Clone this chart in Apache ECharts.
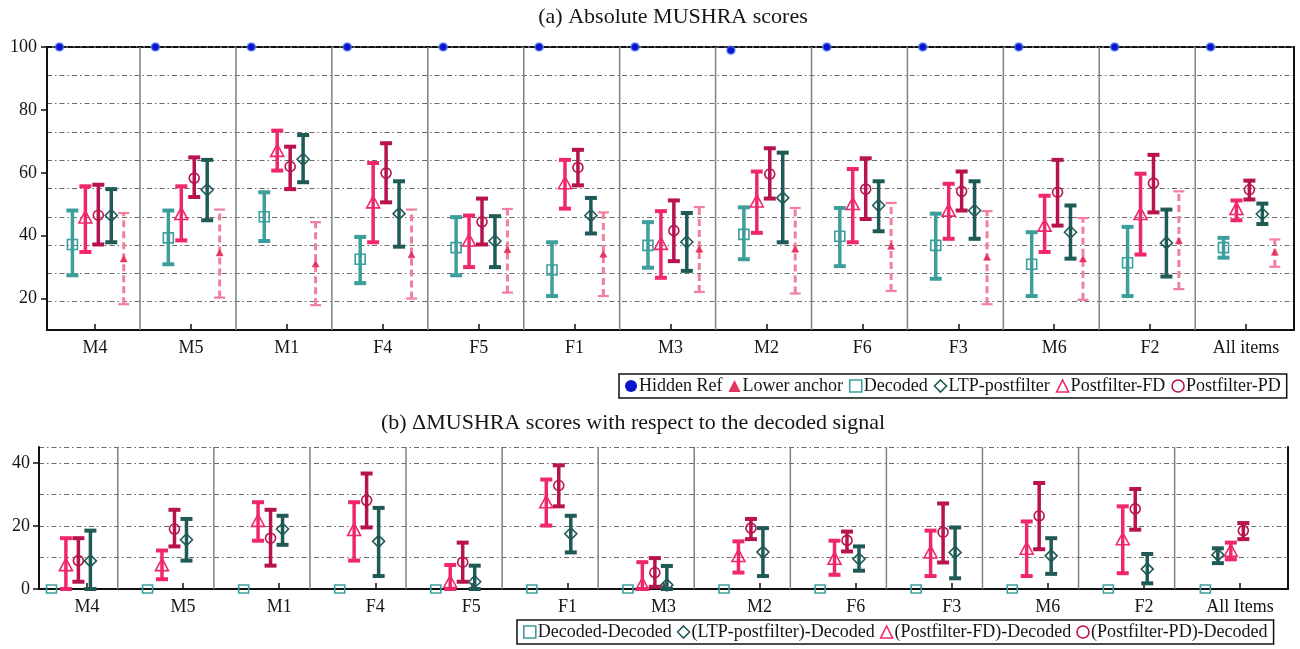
<!DOCTYPE html>
<html><head><meta charset="utf-8">
<script src="https://cdn.jsdelivr.net/npm/echarts@6/dist/echarts.min.js"></script>
<style>html,body{margin:0;padding:0;background:#fff}#c{width:1300px;height:649px}</style>
</head><body><div id="c"></div>
<script>
// ---------- data ----------
const categoriesTop = ['M4','M5','M1','F4','F5','F1','M3','M2','F6','F3','M6','F2','All items'];
const categoriesBottom = ['M4','M5','M1','F4','F5','F1','M3','M2','F6','F3','M6','F2','All Items'];
const yTickLabelsTop = [20, 40, 60, 80, 100];
const yTickLabelsBottom = [0, 20, 40];

// (a) absolute scores: mean, lower CI, upper CI
const hiddenRefMean = [100,100,100,100,100,100,100,99,100,100,100,100,100];
const anchorMean = [32.5,34.4,30.9,33.8,35.4,34.0,35.6,35.6,36.5,33.0,32.5,38.3,34.6];
const anchorLow  = [18.2,20.3,17.9,20.0,21.9,20.8,22.1,21.6,22.4,18.2,19.6,23.0,30.1];
const anchorHigh = [47.2,48.3,44.3,48.3,48.5,47.4,49.1,48.8,50.4,47.8,45.6,54.1,38.8];
const decodedMean = [37.2,39.3,46.0,32.5,36.2,29.1,36.9,40.4,39.8,36.9,30.9,31.4,36.2];
const decodedLow  = [27.4,30.9,38.3,24.9,27.4,20.8,29.8,32.5,30.3,26.3,20.8,20.8,33.0];
const decodedHigh = [48.0,48.0,53.8,39.6,45.9,37.9,44.3,49.0,48.8,47.0,41.1,42.8,39.3];
const ltpMean = [46.4,54.6,64.3,47.0,38.3,46.4,38.0,52.0,49.6,48.0,41.1,37.7,46.9];
const ltpLow  = [37.9,44.9,57.0,36.5,30.0,40.7,28.8,37.9,41.4,39.0,32.7,27.0,43.7];
const ltpHigh = [54.8,64.1,72.0,57.3,46.2,52.0,47.2,66.4,57.3,57.3,49.6,48.3,50.2];
const fdMean = [45.6,46.7,66.8,50.4,38.3,56.5,37.2,50.7,49.9,47.8,43.0,46.7,48.3];
const fdLow  = [34.8,38.5,60.7,37.9,30.0,48.6,26.6,40.9,37.9,39.0,34.8,34.0,44.9];
const fdHigh = [55.7,55.7,73.4,63.1,46.4,64.1,47.8,60.4,61.2,56.5,52.7,59.7,51.2];
const pdMean = [46.5,58.3,62.0,59.9,44.4,61.7,41.6,59.6,54.8,54.1,53.8,56.7,54.6];
const pdLow  = [37.2,52.3,54.8,50.6,37.2,56.0,31.9,51.8,45.3,48.0,43.2,47.4,51.5];
const pdHigh = [56.2,64.9,68.3,69.4,51.8,67.3,51.2,67.8,64.6,60.4,64.1,65.7,57.5];

// (b) delta scores with respect to decoded
const ddMean = [0,0,0,0,0,0,0,0,0,0,0,0,0];
const dLtpMean = [8.9,15.6,19.0,15.1,2.3,17.5,1.3,11.7,9.5,11.6,10.5,6.3,10.8];
const dLtpLow  = [0,9.0,14.0,4.1,0,11.6,0,4.1,5.8,3.4,4.8,1.8,8.2];
const dLtpHigh = [18.5,22.2,23.2,25.7,7.4,23.2,7.3,19.3,13.5,19.5,16.1,11.1,12.9];
const dFdMean = [7.4,7.4,21.4,18.5,2.0,27.3,1.3,10.3,9.4,11.4,12.6,15.6,11.9];
const dFdLow  = [0,3.1,15.3,9.0,0,20.1,0,5.2,4.5,4.1,4.1,5.0,9.4];
const dFdHigh = [16.1,12.2,27.5,27.5,7.6,34.7,8.5,15.1,15.3,18.5,21.4,26.2,14.7];
const dPdMean = [9.0,19.0,16.1,28.1,8.5,32.8,5.2,19.3,15.4,18.0,23.2,25.4,18.5];
const dPdLow  = [2.3,13.5,7.4,19.5,2.3,26.2,0.7,15.8,11.9,8.4,12.6,18.8,15.8];
const dPdHigh = [16.1,25.1,25.1,36.6,14.7,39.2,9.8,22.2,18.2,27.1,33.6,31.7,20.9];

// ---------- styling ----------
const C = {
  teal:'#3c9f9c', ltp:'#1f5a57', fd:'#f0276d', pd:'#b8124f',
  anchor:'#f27ea2', anchorMk:'#e5335f', hidden:'#0a14c8', grid:'#6a6a6a', divider:'#808080'
};
const FONT = 'Liberation Serif';
const gridLine = {show:true, lineStyle:{color:C.grid, width:1.2, type:[5,3,1.5,3]}};

const slotTop = {hidden:-0.37, decoded:-0.235, fd:-0.10, pd:0.035, ltp:0.17, anchor:0.30};
const slotBot = {dd:-0.37, fd:-0.22, pd:-0.09, ltp:0.035};
const slotBotLast = {dd:-0.36, ltp:-0.23, fd:-0.095, pd:0.035};

function rows(m, lo, hi) { return m.map((v, i) => [i, v, lo ? lo[i] : v, hi ? hi[i] : v]); }

function marker(c, x, y) {
  const s = c.size;
  const st = {fill: c.fill || 'none', stroke: c.mstroke || c.color, lineWidth: c.mLine == null ? 1.6 : c.mLine};
  if (c.marker === 'circle') return {type:'circle', shape:{cx:x, cy:y, r:s/2}, style:st, z2:10};
  if (c.marker === 'rect') return {type:'rect', shape:{x:x-s/2, y:y-(c.h||s)/2, width:s, height:(c.h||s)}, style:st, z2:10};
  if (c.marker === 'triangle') return {type:'polygon', shape:{points:[[x,y-s*0.55],[x+s/2,y+s*0.38],[x-s/2,y+s*0.38]]}, style:st, z2:10};
  return {type:'polygon', shape:{points:[[x,y-s/2],[x+s/2,y],[x,y+s/2],[x-s/2,y]]}, style:st, z2:10};
}

function errorRenderer(c) {
  return function (params, api) {
    const i = api.value(0);
    const band = api.size([1, 0])[0];
    const x = api.coord([i, api.value(1)])[0] + c.slot(i) * band;
    const yM = api.coord([i, api.value(1)])[1];
    const cs = params.coordSys;
    const clampY = y => Math.max(cs.y, Math.min(cs.y + cs.height, y));
    const yL = clampY(api.coord([i, api.value(2)])[1]);
    const yH = clampY(api.coord([i, api.value(3)])[1]);
    const ch = [];
    if (c.bar) {
      ch.push({type:'line', shape:{x1:x, y1:yL, x2:x, y2:yH}, style:{stroke:c.barColor||c.color, lineWidth:c.barWidth, lineDash:c.dash||null}});
      [yL, yH].forEach(y => ch.push({type:'line', shape:{x1:x-c.capW/2, y1:y, x2:x+c.capW/2, y2:y}, style:{stroke:c.barColor||c.color, lineWidth:c.capT}}));
    }
    ch.push(marker(c, x, yM));
    return {type:'group', children:ch};
  };
}

function dividerRenderer(shift) {
  return function (params, api) {
    const i = api.value(0);
    const band = api.size([1, 0])[0];
    const x = api.coord([i, api.value(1)])[0] + band * (0.5 + shift);
    const cs = params.coordSys;
    return {type:'line', shape:{x1:x, y1:cs.y, x2:x, y2:cs.y + cs.height}, style:{stroke:C.divider, lineWidth:1.5}, silent:true};
  };
}

const solidBar = {bar:true, barWidth:3.5, capW:12, capT:4};
function es(name, xi, yi, data, cfg) {
  return {type:'custom', name, xAxisIndex:xi, yAxisIndex:yi, data, encode:{x:0, y:1},
    itemStyle:{color:cfg.color}, renderItem:errorRenderer(cfg), z:5, silent:true};
}

const last = categoriesBottom.length - 1;
const series = [
  {type:'custom', xAxisIndex:0, yAxisIndex:0, data:categoriesTop.slice(0,-1).map((_, i) => [i, 50]), encode:{x:0,y:1}, renderItem:dividerRenderer(-0.03), z:2, silent:true},
  {type:'custom', xAxisIndex:2, yAxisIndex:3, data:categoriesBottom.slice(0,-1).map((_, i) => [i, 20]), encode:{x:0,y:1}, renderItem:dividerRenderer(-0.18), z:2, silent:true},

  es('Hidden Ref', 0, 0, rows(hiddenRefMean), {color:C.hidden, slot:()=>slotTop.hidden, marker:'circle', size:8, fill:C.hidden, mstroke:'rgba(90,140,255,0.55)', mLine:2}),
  es('Lower anchor', 0, 0, rows(anchorMean, anchorLow, anchorHigh), {color:C.anchorMk, barColor:C.anchor, slot:()=>slotTop.anchor, bar:true, barWidth:3, capW:11, capT:2.2, dash:[7,4], marker:'triangle', size:7, fill:C.anchorMk, mLine:0.5}),
  es('Decoded', 0, 0, rows(decodedMean, decodedLow, decodedHigh), Object.assign({color:C.teal, slot:()=>slotTop.decoded, marker:'rect', size:10}, solidBar)),
  es('LTP-postfilter', 0, 0, rows(ltpMean, ltpLow, ltpHigh), Object.assign({color:C.ltp, slot:()=>slotTop.ltp, marker:'diamond', size:12}, solidBar)),
  es('Postfilter-FD', 0, 0, rows(fdMean, fdLow, fdHigh), Object.assign({color:C.fd, slot:()=>slotTop.fd, marker:'triangle', size:13}, solidBar)),
  es('Postfilter-PD', 0, 0, rows(pdMean, pdLow, pdHigh), Object.assign({color:C.pd, slot:()=>slotTop.pd, marker:'circle', size:10}, solidBar)),

  es('Decoded-Decoded', 2, 3, rows(ddMean), {color:C.teal, slot:i => (i === last ? slotBotLast : slotBot).dd, marker:'rect', size:10, h:8}),
  es('(LTP-postfilter)-Decoded', 2, 3, rows(dLtpMean, dLtpLow, dLtpHigh), Object.assign({color:C.ltp, slot:i => (i === last ? slotBotLast : slotBot).ltp, marker:'diamond', size:12}, solidBar)),
  es('(Postfilter-FD)-Decoded', 2, 3, rows(dFdMean, dFdLow, dFdHigh), Object.assign({color:C.fd, slot:i => (i === last ? slotBotLast : slotBot).fd, marker:'triangle', size:13}, solidBar)),
  es('(Postfilter-PD)-Decoded', 2, 3, rows(dPdMean, dPdLow, dPdHigh), Object.assign({color:C.pd, slot:i => (i === last ? slotBotLast : slotBot).pd, marker:'circle', size:10}, solidBar))
];

const labelStyle = {fontFamily:FONT, fontSize:18, color:'#151515'};
const hollow = (c) => ({color:'#fff', borderColor:c, borderWidth:1.6});
const noAxisParts = {axisTick:{show:false}, axisLabel:{show:false}, splitLine:{show:false}};

const option = {
  animation:false,
  backgroundColor:'#fff',
  title:[
    {text:'(a) Absolute MUSHRA scores', left:668, top:1, textAlign:'center', textStyle:{fontFamily:FONT, fontSize:22, fontWeight:'normal', color:'#151515'}},
    {text:'(b) \u0394MUSHRA scores with respect to the decoded signal', left:628, top:407, textAlign:'center', textStyle:{fontFamily:FONT, fontSize:22, fontWeight:'normal', color:'#151515'}}
  ],
  legend:[
    {left:619, top:374, orient:'horizontal', padding:[3,6,3,6], itemGap:6, itemWidth:12, itemHeight:12, borderColor:'#111', borderWidth:1.5, backgroundColor:'#fff',
     textStyle:{fontFamily:FONT, fontSize:18, color:'#151515', padding:[0,0,0,-3]}, selectedMode:false,
     data:[
      {name:'Hidden Ref', icon:'circle', itemStyle:{color:C.hidden, borderWidth:0}},
      {name:'Lower anchor', icon:'triangle', itemStyle:{color:C.anchorMk, borderWidth:0}},
      {name:'Decoded', icon:'rect', itemStyle:hollow(C.teal)},
      {name:'LTP-postfilter', icon:'diamond', itemStyle:hollow(C.ltp)},
      {name:'Postfilter-FD', icon:'triangle', itemStyle:hollow(C.fd)},
      {name:'Postfilter-PD', icon:'circle', itemStyle:hollow(C.pd)}
     ]},
    {left:517, top:620, orient:'horizontal', padding:[3,6,3,6], itemGap:5, itemWidth:12, itemHeight:12, borderColor:'#111', borderWidth:1.5, backgroundColor:'#fff',
     textStyle:{fontFamily:FONT, fontSize:18, color:'#151515', padding:[0,0,0,-3]}, selectedMode:false,
     data:[
      {name:'Decoded-Decoded', icon:'rect', itemStyle:hollow(C.teal)},
      {name:'(LTP-postfilter)-Decoded', icon:'diamond', itemStyle:hollow(C.ltp)},
      {name:'(Postfilter-FD)-Decoded', icon:'triangle', itemStyle:hollow(C.fd)},
      {name:'(Postfilter-PD)-Decoded', icon:'circle', itemStyle:hollow(C.pd)}
     ]}
  ],
  grid:[
    {left:47, right:6, top:47, height:283, containLabel:false},
    {left:39, right:12, top:447, height:142, containLabel:false}
  ],
  xAxis:[
    {type:'category', gridIndex:0, data:categoriesTop, position:'bottom', boundaryGap:true,
     axisLine:{lineStyle:{color:'#111', width:2}}, axisTick:{show:true, inside:true, alignWithLabel:true, length:6, lineStyle:{color:'#111', width:1.5}},
     axisLabel:Object.assign({margin:9, interval:0}, labelStyle), splitLine:{show:false}},
    Object.assign({type:'category', gridIndex:0, data:categoriesTop, position:'top',
     axisLine:{lineStyle:{color:'#111', width:1.8, type:[5,2]}}}, noAxisParts),
    {type:'category', gridIndex:1, data:categoriesBottom, position:'bottom', boundaryGap:true,
     axisLine:{onZero:false, lineStyle:{color:'#111', width:1.8, type:[5,2]}}, axisTick:{show:true, inside:true, alignWithLabel:true, length:6, lineStyle:{color:'#111', width:1.5}},
     axisLabel:Object.assign({margin:9, interval:0}, labelStyle), splitLine:{show:false}},
    Object.assign({type:'category', gridIndex:1, data:categoriesBottom, position:'top',
     axisLine:{lineStyle:{color:'#111', width:2}}}, noAxisParts)
  ],
  yAxis:[
    // top panel: dotted grid (interval 9 from 10), labels, right border
    {type:'value', gridIndex:0, position:'left', offset:0, min:10, max:100, interval:9,
     axisLine:{show:true, lineStyle:{color:'#111', width:2}}, axisTick:{show:false}, axisLabel:{show:false}, splitLine:gridLine},
    {type:'value', gridIndex:0, position:'left', offset:0, min:10, max:100,
     axisLine:{show:false},
     axisTick:{show:true, length:6, customValues:yTickLabelsTop, lineStyle:{color:'#111', width:1.5}},
     axisLabel:Object.assign({margin:10, customValues:yTickLabelsTop}, labelStyle), splitLine:{show:false}},
    Object.assign({type:'value', gridIndex:0, position:'right', offset:0, min:10, max:100,
     axisLine:{show:true, lineStyle:{color:'#111', width:2}}}, noAxisParts),
    // bottom panel
    {type:'value', gridIndex:1, position:'left', offset:0, min:0, max:45, interval:10,
     axisLine:{show:true, lineStyle:{color:'#111', width:2}}, axisTick:{show:false}, axisLabel:{show:false}, splitLine:gridLine},
    {type:'value', gridIndex:1, position:'left', offset:0, min:0, max:45,
     axisLine:{show:false},
     axisTick:{show:true, length:6, customValues:yTickLabelsBottom, lineStyle:{color:'#111', width:1.5}},
     axisLabel:Object.assign({margin:9, customValues:yTickLabelsBottom}, labelStyle), splitLine:{show:false}},
    Object.assign({type:'value', gridIndex:1, position:'right', offset:0, min:0, max:45,
     axisLine:{show:true, lineStyle:{color:'#111', width:2}}}, noAxisParts)
  ],
  series
};

const chart = echarts.init(document.getElementById('c'), null, {renderer:'canvas'});
chart.setOption(option);
</script>
</body></html>
